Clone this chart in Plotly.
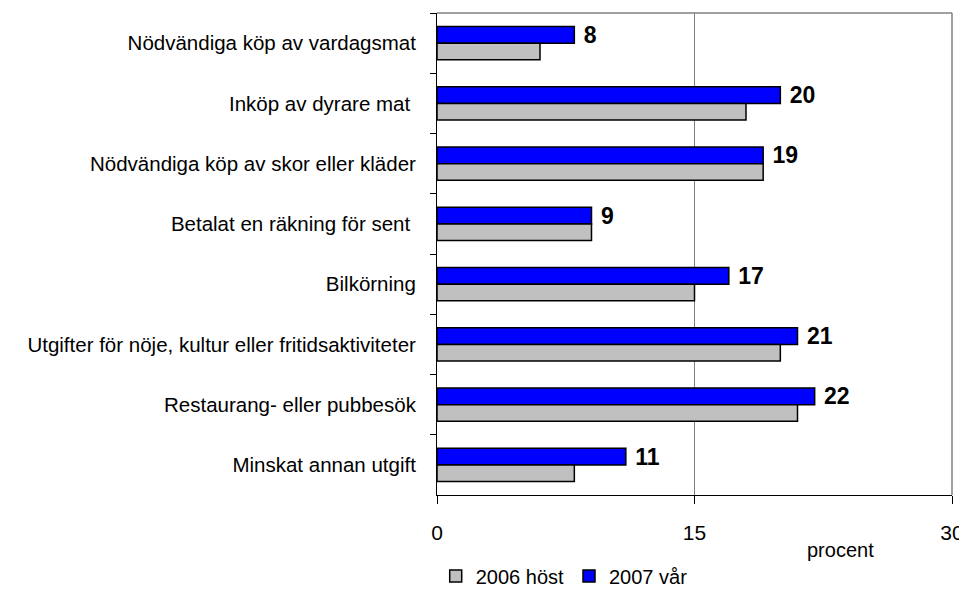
import plotly.graph_objects as go

categories = [
    "Nödvändiga köp av vardagsmat",
    "Inköp av dyrare mat ",
    "Nödvändiga köp av skor eller kläder",
    "Betalat en räkning för sent ",
    "Bilkörning",
    "Utgifter för nöje, kultur eller fritidsaktiviteter",
    "Restaurang- eller pubbesök",
    "Minskat annan utgift",
]
values_2006 = [6, 18, 19, 9, 15, 20, 21, 8]
values_2007 = [8, 20, 19, 9, 17, 21, 22, 11]
x_ticks = [0, 15, 30]

FONT = "Liberation Sans, Arial, sans-serif"

fig = go.Figure()
fig.add_trace(go.Bar(
    y=categories, x=values_2007, orientation="h", name="2007 vår",
    marker=dict(color="#0000FF", line=dict(color="black", width=1.5)),
    texttemplate=" %{x}", textposition="outside",
    textfont=dict(family=FONT, size=23, color="black", weight="bold"),
    constraintext="none", cliponaxis=False,
))
fig.add_trace(go.Bar(
    y=categories, x=values_2006, orientation="h", name="2006 höst",
    marker=dict(color="#C0C0C0", line=dict(color="black", width=1.5)),
))

# page body has an 8px margin; figure sized/margined so the plot area sits at
# x 437..952, y 13..495 in the 967x590 window
fig.update_layout(
    width=959, height=582,
    margin=dict(l=429, r=15, t=5, b=95, autoexpand=False),
    paper_bgcolor="white", plot_bgcolor="white",
    barmode="group", bargap=0.45, bargroupgap=0,
    font=dict(family=FONT, color="black"),
    showlegend=True,
    legend=dict(orientation="h", x=0.247, y=-0.168, xanchor="center", yanchor="middle",
                font=dict(family=FONT, size=20, color="black"),
                itemwidth=30, traceorder="reversed"),
    xaxis=dict(range=[0, 30], tickvals=x_ticks, ticktext=[str(t) for t in x_ticks],
               showgrid=True, gridcolor="#808080", gridwidth=1, automargin=False,
               showline=True, linecolor="black", linewidth=1, zeroline=False,
               ticks="outside", ticklen=8, tickcolor="black",
               tickfont=dict(family=FONT, size=21, color="black"),
               ticklabelstandoff=11),
    yaxis=dict(autorange="reversed", showline=True, linecolor="black", linewidth=1,
               ticks="outside", ticklen=6, tickcolor="black", tickson="boundaries",
               showgrid=False, automargin=False,
               tickfont=dict(family=FONT, size=20.5, color="black"),
               ticklabelstandoff=16),
    annotations=[dict(text="procent", xref="paper", yref="paper", x=0.783, y=-0.114,
                      showarrow=False, font=dict(family=FONT, size=20, color="black"),
                      xanchor="center", yanchor="middle")],
    shapes=[
        dict(type="line", xref="paper", yref="paper", x0=0, x1=1, y0=1, y1=1,
             line=dict(color="#808080", width=1.5)),
        dict(type="line", xref="paper", yref="paper", x0=1, x1=1, y0=0, y1=1,
             line=dict(color="#808080", width=1.5)),
    ],
)

fig.write_html("out.html")
